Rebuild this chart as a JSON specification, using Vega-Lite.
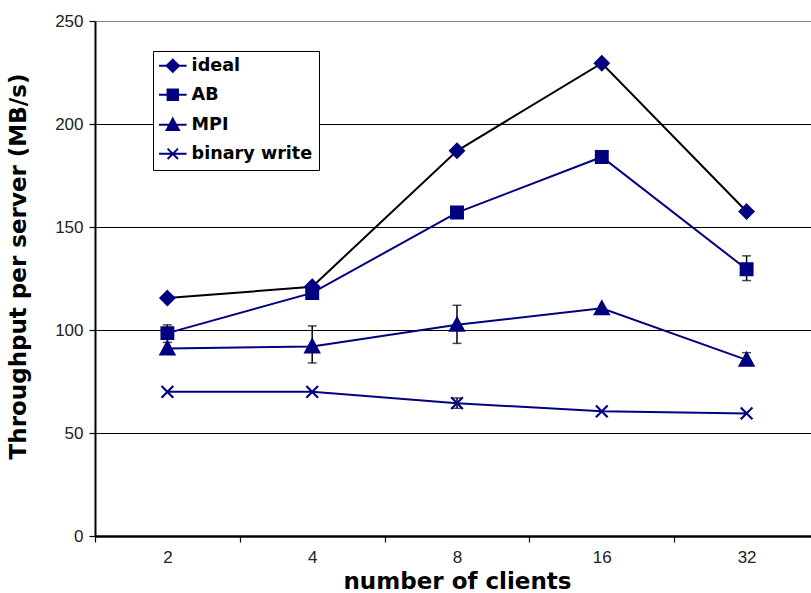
{
  "$schema": "https://vega.github.io/schema/vega-lite/v6.json",
  "width": 716,
  "height": 515,
  "autosize": {"type": "none"},
  "padding": {"left": 95, "top": 21, "right": 0, "bottom": 57},
  "background": "white",
  "config": {
    "view": {"stroke": null},
    "axis": {"labelFont": "Liberation Sans", "labelFontSize": 17, "labelColor": "#222", "titleFont": "DejaVu Sans", "titleFontSize": 23, "titleFontWeight": "bold", "titleColor": "#000"}
  },
  "data": {
    "values": [
      {"clients": "2", "series": "ideal", "value": 115.5, "lo": null, "hi": null},
      {"clients": "4", "series": "ideal", "value": 121, "lo": null, "hi": null},
      {"clients": "8", "series": "ideal", "value": 187, "lo": null, "hi": null},
      {"clients": "16", "series": "ideal", "value": 229.5, "lo": null, "hi": null},
      {"clients": "32", "series": "ideal", "value": 157.5, "lo": null, "hi": null},
      {"clients": "2", "series": "AB", "value": 98.5, "lo": 94, "hi": 102.5},
      {"clients": "4", "series": "AB", "value": 118, "lo": null, "hi": null},
      {"clients": "8", "series": "AB", "value": 157, "lo": null, "hi": null},
      {"clients": "16", "series": "AB", "value": 184, "lo": null, "hi": null},
      {"clients": "32", "series": "AB", "value": 129.5, "lo": 124, "hi": 136},
      {"clients": "2", "series": "MPI", "value": 91, "lo": null, "hi": null},
      {"clients": "4", "series": "MPI", "value": 92, "lo": 84, "hi": 102},
      {"clients": "8", "series": "MPI", "value": 102.5, "lo": 93.5, "hi": 112},
      {"clients": "16", "series": "MPI", "value": 110.5, "lo": null, "hi": null},
      {"clients": "32", "series": "MPI", "value": 85.5, "lo": 83, "hi": 89},
      {"clients": "2", "series": "binary write", "value": 70, "lo": null, "hi": null},
      {"clients": "4", "series": "binary write", "value": 70, "lo": null, "hi": null},
      {"clients": "8", "series": "binary write", "value": 64.5, "lo": 62, "hi": 67},
      {"clients": "16", "series": "binary write", "value": 60.5, "lo": null, "hi": null},
      {"clients": "32", "series": "binary write", "value": 59.5, "lo": null, "hi": null}
    ]
  },
  "encoding": {
    "x": {
      "field": "clients", "type": "nominal", "sort": ["2", "4", "8", "16", "32"],
      "scale": {"type": "band", "paddingInner": 0, "paddingOuter": 0, "range": [0, 724]},
      "axis": {"title": "number of clients", "labelAngle": 0, "tickBand": "extent", "grid": false,
        "domainColor": "#000", "domainWidth": 2.5, "tickColor": "#000", "tickWidth": 1.2, "tickSize": 6,
        "labelPadding": 7, "labelBaseline": "top", "titleY": 52, "titleBaseline": "alphabetic"}
    }
  },
  "resolve": {"scale": {"shape": "independent"}},
  "layer": [
    {
      "mark": {"type": "rule", "color": "#000", "strokeWidth": 1.5},
      "transform": [{"filter": "datum.lo != null"}],
      "encoding": {
        "y": {"field": "lo", "type": "quantitative", "scale": {"domain": [0, 250], "nice": false},
          "axis": {"title": "Throughput per server (MB/s)", "values": [0, 50, 100, 150, 200, 250], "grid": true,
            "gridColor": {"condition": {"test": "datum.value === 250", "value": "#888"}, "value": "#000"},
            "gridWidth": 1.2, "domainColor": "#000", "domainWidth": 2, "tickColor": "#000", "tickSize": 6, "tickWidth": 1.2,
            "labelPadding": 6, "titleX": -70, "titleY": 245, "titleAngle": -90, "titleAlign": "center", "titleBaseline": "alphabetic"}},
        "y2": {"field": "hi"}
      }
    },
    {
      "mark": {"type": "tick", "color": "#000", "thickness": 1.5, "size": 9, "orient": "horizontal"},
      "transform": [{"filter": "datum.lo != null"}],
      "encoding": {"y": {"field": "lo", "type": "quantitative"}}
    },
    {
      "mark": {"type": "tick", "color": "#000", "thickness": 1.5, "size": 9, "orient": "horizontal"},
      "transform": [{"filter": "datum.lo != null"}],
      "encoding": {"y": {"field": "hi", "type": "quantitative"}}
    },
    {
      "mark": {"type": "line", "strokeWidth": 2, "color": "#000000"},
      "transform": [{"filter": "datum.series === 'ideal'"}],
      "encoding": {"y": {"field": "value", "type": "quantitative"}}
    },
    {
      "mark": {"type": "line", "strokeWidth": 2, "color": "#000080"},
      "transform": [{"filter": "datum.series !== 'ideal'"}],
      "encoding": {
        "y": {"field": "value", "type": "quantitative"},
        "detail": {"field": "series", "type": "nominal"}
      }
    },
    {
      "mark": {"type": "point", "filled": true, "fill": "#000080", "stroke": "#000080", "strokeWidth": 2.2, "size": 190, "opacity": 1},
      "encoding": {
        "y": {"field": "value", "type": "quantitative"},
        "shape": {"field": "series", "type": "nominal",
          "scale": {"domain": ["ideal", "AB", "MPI", "binary write"],
            "range": ["M0,-1L1,0L0,1L-1,0Z", "M-0.85,-0.85H0.85V0.85H-0.85Z", "M0,-1L1,0.85H-1Z", "M-0.85,-0.85L0.85,0.85M-0.85,0.85L0.85,-0.85"]},
          "legend": null
        }
      }
    },
    {
      "mark": {"type": "point", "filled": true, "fill": "#000080", "stroke": "#000080", "strokeWidth": 2, "size": 150, "opacity": 0},
      "encoding": {
        "y": {"field": "value", "type": "quantitative"},
        "shape": {"field": "series", "type": "nominal",
          "scale": {"domain": ["ideal", "AB", "MPI", "binary write"],
            "range": ["M-2.25,0H2.25M0,-1L1,0L0,1L-1,0Z", "M-2.25,0H2.25M-0.85,-0.85H0.85V0.85H-0.85Z", "M-2.25,0H2.25M0,-1L1,0.85H-1Z", "M-2.25,0H2.25M-0.85,-0.85L0.85,0.85M-0.85,0.85L0.85,-0.85"]},
          "legend": {"title": null, "orient": "none", "legendX": 58, "legendY": 30,
            "fillColor": "#fff", "strokeColor": "#000", "padding": 6, "rowPadding": 9,
            "labelFont": "DejaVu Sans", "labelFontSize": 17.6, "labelFontWeight": "bold", "labelColor": "#000",
            "symbolSize": 150, "symbolStrokeWidth": 2, "symbolOpacity": 1, "symbolOffset": 5, "labelOffset": 10}
        }
      }
    }
  ]
}
